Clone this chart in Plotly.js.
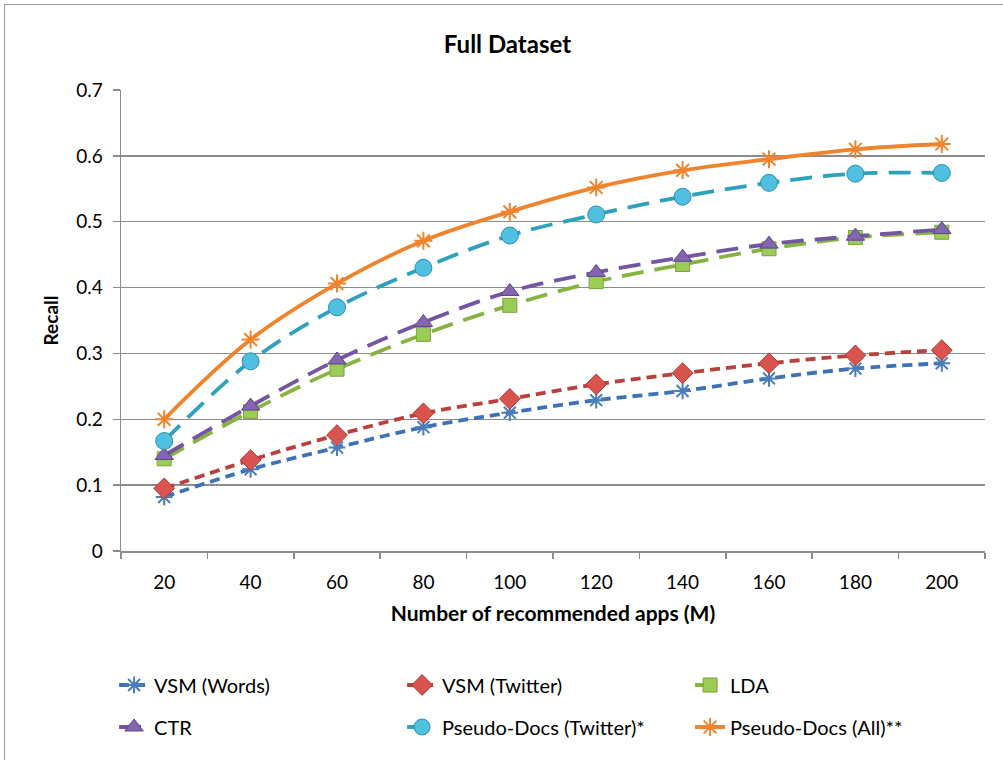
<!DOCTYPE html>
<html>
<head>
<meta charset="utf-8">
<script src="https://cdn.plot.ly/plotly-3.0.1.min.js"></script>
<style>
html,body{margin:0;padding:0;background:#fff;overflow:hidden;width:1003px;height:760px;}
#chart{width:1003px;height:760px;}
#frame{position:absolute;left:4px;top:4px;width:1100px;height:900px;border:1.5px solid #9a9a9a;pointer-events:none;}
</style>
</head>
<body>
<div id="chart"></div>
<div id="frame"></div>
<script>
var categories = ['20','40','60','80','100','120','140','160','180','200'];
var vsmWords   = [0.082,0.124,0.157,0.188,0.210,0.229,0.243,0.262,0.277,0.285];
var vsmTwitter = [0.095,0.138,0.176,0.209,0.231,0.253,0.270,0.285,0.297,0.305];
var lda        = [0.140,0.212,0.276,0.329,0.373,0.409,0.435,0.459,0.476,0.484];
var ctr        = [0.145,0.220,0.290,0.347,0.394,0.423,0.446,0.466,0.478,0.488];
var pdTwitter  = [0.167,0.288,0.370,0.430,0.479,0.511,0.538,0.559,0.573,0.574];
var pdAll      = [0.200,0.321,0.406,0.471,0.515,0.552,0.578,0.595,0.610,0.618];
var seriesNames = ['VSM (Words)','VSM (Twitter)','LDA','CTR','Pseudo-Docs (Twitter)*','Pseudo-Docs (All)**'];

var FONT = 'Lato, "Open Sans", sans-serif';

function tr(name, y, lineColor, dash, sym, mFill, mLine, mSize, legend){
  return {
    type:'scatter', mode:'lines+markers', name:name, x:categories, y:y,
    line:{color:lineColor, width:3.8, dash:dash, shape:'spline', smoothing:1},
    marker:{symbol:sym, color:mFill, size:mSize, line:{color:mLine, width:(sym.indexOf('open')>=0?2:1)}},
    legend:legend
  };
}

var data = [
  tr(seriesNames[0], vsmWords, '#3f72b5', '10px,6px', 'asterisk-open', '#4a7ebb', '#4a7ebb', 14, 'legend'),
  tr(seriesNames[1], vsmTwitter, '#b8403d', '10px,6px', 'diamond', '#d9534f', '#a33a37', 16, 'legend'),
  tr(seriesNames[2], lda, '#86b342', '22px,11px', 'square', '#9bcc55', '#7aa23e', 14, 'legend'),
  tr(seriesNames[3], ctr, '#7355a0', '22px,11px', 'triangle-up', '#8466b0', '#5e4586', 16, 'legend2'),
  tr(seriesNames[4], pdTwitter, '#2fa1bb', '22px,11px', 'circle', '#4fc0df', '#2f8fab', 17, 'legend2'),
  tr(seriesNames[5], pdAll, '#f0842d', 'solid', 'asterisk-open', '#f0842d', '#f0842d', 15, 'legend2')
];

var axisCol = '#8c8c8c';
var legendBase = {orientation:'h', x:-0.008, xanchor:'left', yref:'paper', yanchor:'middle',
    entrywidth:243, entrywidthmode:'pixels', font:{family:FONT, size:20}, bgcolor:'rgba(0,0,0,0)', traceorder:'normal'};
var legend1 = Object.assign({}, legendBase, {y:(551-685)/461});
var legend2 = Object.assign({}, legendBase, {y:(551-727)/461});

var layout = {
  width:1003, height:760,
  paper_bgcolor:'#fff', plot_bgcolor:'#fff',
  margin:{l:121, r:18, t:90, b:209},
  font:{family:FONT, size:18, color:'#000'},
  title:{text:'<b>Full Dataset</b>', font:{family:FONT, size:24, color:'#000'}, xref:'container', x:0.506, y:1-45/760, yref:'container', xanchor:'center', yanchor:'middle'},
  xaxis:{
    type:'category', range:[-0.5, 9.5], autorange:false, tickson:'boundaries', ticks:'outside', ticklen:6, tickcolor:axisCol, tickwidth:1.5,
    showline:true, linecolor:axisCol, linewidth:1.5, showgrid:false, zeroline:false,
    tickfont:{family:FONT, size:19}, ticklabelstandoff:14,
    title:{text:'<b>Number of recommended apps (M)</b>', font:{family:FONT, size:21}, standoff:14}
  },
  yaxis:{
    range:[0,0.7], autorange:false, dtick:0.1, tick0:0, ticks:'outside', ticklen:7, tickcolor:axisCol, tickwidth:1.5,
    showline:true, linecolor:axisCol, linewidth:1.5, showgrid:true, gridcolor:axisCol, gridwidth:1.5, zeroline:false,
    tickfont:{family:FONT, size:19}, ticklabelstandoff:6,
    title:{text:'<b>Recall</b>', font:{family:FONT, size:19}, standoff:12}
  },
  showlegend:true,
  legend:legend1,
  legend2:legend2
};

Plotly.newPlot('chart', data, layout, {displayModeBar:false, staticPlot:true});
</script>
</body>
</html>
